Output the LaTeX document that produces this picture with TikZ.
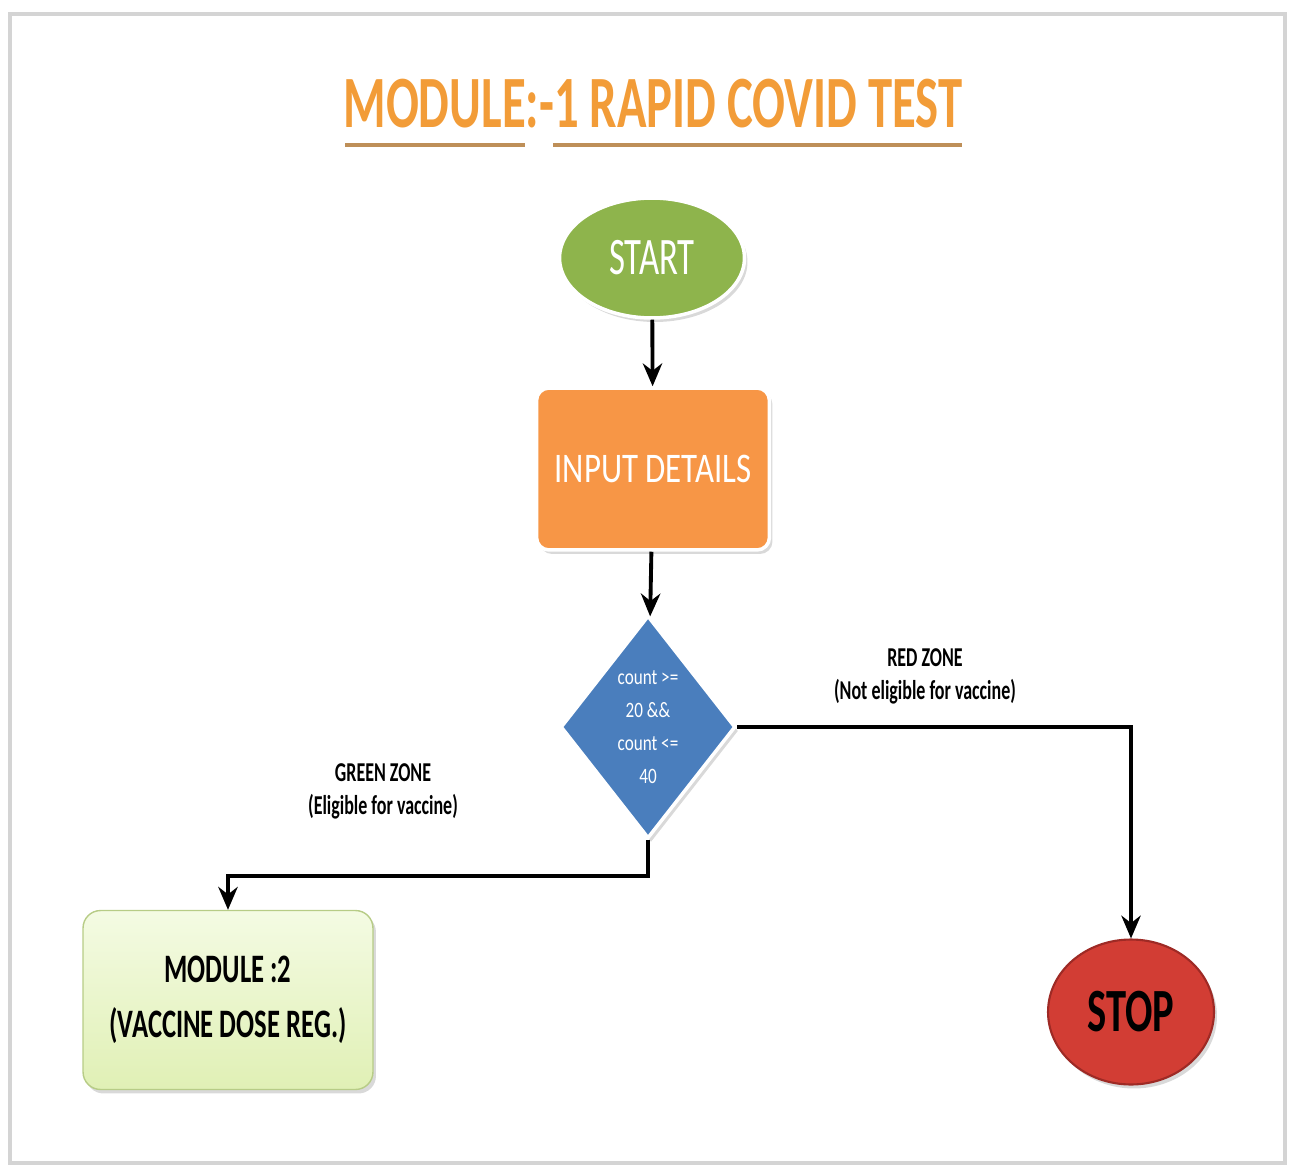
\documentclass[tikz,border=0pt]{standalone}
\usepackage{fontspec}
\setmainfont{Carlito}
\newfontfamily\condfont[FakeStretch=0.66]{Carlito}
\newfontfamily\softfont[FakeStretch=0.78]{Carlito}
\usetikzlibrary{shapes.geometric,arrows.meta,shadows}

\definecolor{framegray}{HTML}{D4D4D4}
\definecolor{titleorange}{HTML}{F29C38}
\definecolor{startgreen}{HTML}{8EB44C}
\definecolor{inputorange}{HTML}{F79646}
\definecolor{decideblue}{HTML}{4A7EBD}
\definecolor{moduletop}{HTML}{F4FBE3}
\definecolor{modulebottom}{HTML}{E0F0B5}
\definecolor{moduleline}{HTML}{B7CC86}
\definecolor{stopred}{HTML}{D23D34}
\definecolor{stopline}{HTML}{9E2A25}

\begin{document}
\begin{tikzpicture}[x=0.02cm, y=-0.02cm,
	flow/.style={line width=2.2pt, -{Stealth[length=13pt, width=11pt]}},
	soft shadow/.style={drop shadow={opacity=0.3, shadow xshift=0.06cm, shadow yshift=-0.08cm}},
	startshape/.style={ellipse, fill=startgreen, draw=white, line width=2pt, soft shadow,
		minimum width=3.7cm, minimum height=2.4cm, text=white},
	inputbox/.style={rectangle, rounded corners=0.25cm, fill=inputorange, draw=white, line width=2pt,
		soft shadow, minimum width=4.66cm, minimum height=3.24cm, text=white},
	decision/.style={diamond, fill=decideblue, draw=white, line width=2pt, soft shadow, inner sep=0pt,
		minimum width=3.5cm, minimum height=4.46cm, text=white, align=center},
	modulebox/.style={rectangle, rounded corners=0.35cm, top color=moduletop, bottom color=modulebottom,
		draw=moduleline, line width=0.8pt, soft shadow, minimum width=5.8cm, minimum height=3.58cm, align=center},
	stopshape/.style={ellipse, fill=stopred, draw=stopline, line width=1.2pt, soft shadow,
		minimum width=3.32cm, minimum height=2.9cm},
	zonelabel/.style={align=center, font=\condfont\bfseries\fontsize{15.5pt}{18.8pt}\selectfont}]
	\useasboundingbox (0,0) rectangle (1294,1169);
	% page frame
	\draw[framegray, line width=2.5pt] (10,14) rectangle (1285,1163);

	% heading
	\node[text=titleorange, font=\condfont\bfseries\fontsize{42pt}{42pt}\selectfont] (title) at (653,104) {MODULE:-1 RAPID COVID TEST};
	\draw[titleorange!55!gray, line width=2.5pt] (345,145) -- (525,145);
	\draw[titleorange!55!gray, line width=2.5pt] (553,145) -- (962,145);

	% chart
	\node[startshape, font=\condfont\fontsize{30pt}{30pt}\selectfont] (start) at (652,258) {START};
	\node[inputbox, font=\softfont\fontsize{24pt}{24pt}\selectfont] (input) at (653,469) {INPUT DETAILS};
	\node[decision, font=\softfont\fontsize{12.5pt}{18.8pt}\selectfont] (decide) at (648,727) {count >=\\20 \&\&\\count <=\\40};
	\node[modulebox, font=\condfont\bfseries\fontsize{23pt}{31pt}\selectfont] (module) at (228,1000) {MODULE :2\\(VACCINE DOSE\ REG.)};
	\node[stopshape, font=\condfont\bfseries\fontsize{35pt}{35pt}\selectfont] (stop) at (1131,1012) {STOP};

	\draw[flow] (start) -- (input);
	\draw[flow] (input) -- (decide);
	\draw[flow] (decide.east) -| (stop.north);
	\draw[flow] (decide.south) -- ++(0,36) -| (module.north);

	\node[zonelabel] (red) at (925,676) {RED ZONE\\(Not eligible for vaccine)};
	\node[zonelabel] (green) at (383,791) {GREEN ZONE\\(Eligible for vaccine)};
\end{tikzpicture}
\end{document}
